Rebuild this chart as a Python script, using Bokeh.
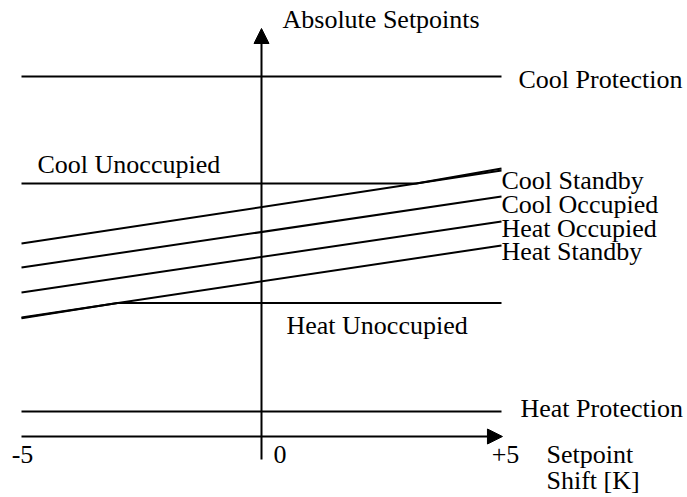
from bokeh.plotting import figure
from bokeh.models import Range1d, Arrow, NormalHead
from bokeh.core.properties import value
from bokeh.embed import file_html
from bokeh.resources import INLINE

# ---- data (setpoint shift in K, absolute setpoints in arbitrary units) ----
shift = [-5, 5]
cool_standby = [8.04, 11.08]
cool_occupied = [7.04, 10.00]
heat_occupied = [6.00, 8.96]
heat_standby = [4.96, 7.96]
cool_protection = 15.0
heat_protection = 1.04
cool_unoccupied = 10.54
heat_unoccupied = 5.56
cool_unocc_end = 11.17      # cool unoccupied follows cool standby at the right end
heat_unocc_start = 4.93     # heat unoccupied follows heat standby at the left end
tick_values = [-5, 0, 5]
tick_labels = ["-5", "0", "+5"]
y_axis_extent = [-0.96, 17.0]
x_axis_extent = [-5, 5.02]

slope_labels = ["Cool Standby", "Cool Occupied", "Heat Occupied", "Heat Standby"]
slope_series = [cool_standby, cool_occupied, heat_occupied, heat_standby]
slope_label_dy = [10, 8, 7, 6]

FONT = value("Liberation Serif")
FS = "26px"

W, H = 687, 497
px_per_x = 48.0
px_per_y = 24.0
x0 = -261 / px_per_x
y_top = 436 / px_per_y

p = figure(width=W, height=H, output_backend="svg", toolbar_location=None,
           x_range=Range1d(x0, x0 + W / px_per_x),
           y_range=Range1d(y_top - H / px_per_y, y_top),
           x_axis_location=None, y_axis_location=None,
           min_border=0, outline_line_color=None)
p.grid.visible = False

# protection limits
p.line(shift, [cool_protection] * 2, line_color="black", line_width=2)
p.line(shift, [heat_protection] * 2, line_color="black", line_width=2)

# sloped setpoints
for ys in slope_series:
    p.line(shift, ys, line_color="black", line_width=2)

# cool unoccupied: flat until it meets cool standby, then follows it
cs_slope = (cool_standby[1] - cool_standby[0]) / (shift[1] - shift[0])
x_cu = shift[0] + (cool_unoccupied - cool_standby[0]) / cs_slope
p.line([shift[0], x_cu, shift[1]], [cool_unoccupied, cool_unoccupied, cool_unocc_end],
       line_color="black", line_width=2)

# heat unoccupied: follows heat standby at the left, then flat
hs_slope = (heat_standby[1] - heat_standby[0]) / (shift[1] - shift[0])
x_hu = shift[0] + (heat_unoccupied - heat_standby[0]) / hs_slope
p.line([shift[0], x_hu, shift[1]], [heat_unocc_start, heat_unoccupied, heat_unoccupied],
       line_color="black", line_width=2)

# axes with arrows
p.add_layout(Arrow(end=NormalHead(size=15, fill_color="black", line_color="black"),
                   x_start=0, y_start=y_axis_extent[0], x_end=0, y_end=y_axis_extent[1],
                   line_width=2, line_color="black"))
p.add_layout(Arrow(end=NormalHead(size=15, fill_color="black", line_color="black"),
                   x_start=x_axis_extent[0], y_start=0, x_end=x_axis_extent[1], y_end=0,
                   line_width=2, line_color="black"))

def txt(x, y, s, xo=0, yo=0, align="left", baseline="alphabetic"):
    p.text(x=[x], y=[y], text=[s], x_offset=xo, y_offset=yo,
           text_font=FONT, text_font_size=FS, text_color="black",
           text_align=align, text_baseline=baseline)

# labels
txt(0, y_axis_extent[1], "Absolute Setpoints", xo=21, yo=-9)
txt(shift[1], cool_protection, "Cool Protection", xo=17, yo=3)
txt(shift[0], cool_unoccupied, "Cool Unoccupied", xo=16, yo=-19)
for lbl, ys, dy in zip(slope_labels, slope_series, slope_label_dy):
    txt(shift[1], ys[1], lbl, xo=0, yo=dy)
txt(0, heat_unoccupied, "Heat Unoccupied", xo=25, yo=22)
txt(shift[1], heat_protection, "Heat Protection", xo=19, yo=-3)

# tick labels
txt(tick_values[0], 0, tick_labels[0], xo=1, yo=18, align="center")
txt(tick_values[1], 0, tick_labels[1], xo=12, yo=18, align="left")
txt(tick_values[2], 0, tick_labels[2], xo=4, yo=18, align="center")
txt(shift[1], 0, "Setpoint", xo=45, yo=18)
txt(shift[1], 0, "Shift [K]", xo=45, yo=44)

open("out.html", "w").write(file_html(p, INLINE))
